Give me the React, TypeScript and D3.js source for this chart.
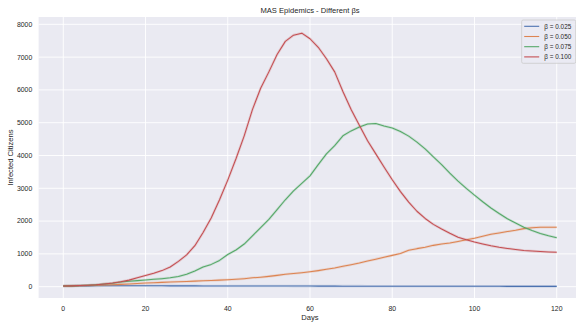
import React from 'react';
import * as d3 from 'd3';

// days sampled every 2 days, 0..120
const days = d3.range(0, 121, 2);

const beta025 = [
  20, 22, 24, 25, 26, 27, 27, 28, 28, 27,
  27, 26, 26, 25, 25, 24, 24, 23, 23, 22,
  22, 21, 21, 20, 20, 20, 19, 19, 18, 18,
  18, 17, 17, 17, 16, 16, 16, 15, 15, 15,
  14, 14, 14, 13, 13, 13, 12, 12, 12, 12,
  11, 11, 11, 11, 10, 10, 10, 10, 10, 9,
  9,
];

const beta050 = [
  20, 22, 28, 35, 42, 50, 60, 70, 80, 95,
  110, 122, 132, 140, 150, 160, 170, 180, 190, 200,
  210, 225, 245, 270, 290, 315, 345, 380, 400, 425,
  455, 490, 530, 570, 620, 670, 720, 780, 840, 900,
  955, 1010, 1110, 1160, 1200, 1260, 1300, 1330, 1380, 1430,
  1480, 1540, 1600, 1640, 1680, 1720, 1770, 1800, 1815, 1815,
  1810,
];

const beta075 = [
  20, 25, 35, 45, 60, 80, 105, 140, 165, 185,
  205, 225, 245, 270, 310, 380, 480, 600, 680, 800,
  980, 1120, 1300, 1550, 1800, 2050, 2350, 2650, 2920, 3150,
  3380, 3720, 4050, 4300, 4600, 4750, 4870, 4960, 4975, 4900,
  4840, 4730, 4590, 4410, 4200, 3960, 3720, 3460, 3220, 3000,
  2790, 2590, 2400, 2230, 2070, 1940, 1810, 1710, 1620, 1550,
  1490,
];

const beta100 = [
  20, 25, 35, 45, 60, 85, 110, 150, 200, 270,
  340, 410, 490, 600, 770, 970, 1250, 1650, 2100, 2650,
  3250, 3900, 4600, 5400, 6050, 6550, 7080, 7480, 7670, 7730,
  7560, 7300, 6950, 6550, 5950, 5400, 4920, 4450, 4050, 3650,
  3260, 2900, 2580, 2300, 2080, 1900, 1760, 1630, 1510, 1430,
  1360, 1300, 1245, 1200, 1165, 1135, 1105, 1085, 1070, 1058,
  1048,
];

const seriesNames = ['β = 0.025', 'β = 0.050', 'β = 0.075', 'β = 0.100'];
const seriesValues = [beta025, beta050, beta075, beta100];
const colors = ['#4C72B0', '#DD8452', '#55A868', '#C44E52'];

const xTicks = [0, 20, 40, 60, 80, 100, 120];
const yTicks = [0, 1000, 2000, 3000, 4000, 5000, 6000, 7000, 8000];

const W = 576;
const H = 325;
const plot = { left: 38.6, right: 581.4, top: 17, bottom: 298 };
const font = '"Liberation Sans", Arial, sans-serif';
const ink = '#262626';

const App = () => {
  const x = d3.scaleLinear().domain([-6, 126]).range([plot.left, plot.right]);
  const y = d3.scaleLinear().domain([-345, 8223]).range([plot.bottom, plot.top]);

  const line = (vals: number[]) =>
    d3
      .line<number>()
      .x((_, i) => x(days[i]))
      .y((d) => y(d))(vals) || '';

  const legX = 521.7;
  const legY = 20;

  return (
    <svg
      width={W}
      height={H}
      style={{ position: 'absolute', left: 0, top: 0, display: 'block' }}
      fontFamily={font}
    >
      <defs>
        <clipPath id="plotClip">
          <rect x={plot.left} y={plot.top} width={plot.right - plot.left} height={plot.bottom - plot.top} />
        </clipPath>
      </defs>
      <rect width={W} height={H} fill="#fff" />
      <rect
        x={plot.left}
        y={plot.top}
        width={plot.right - plot.left}
        height={plot.bottom - plot.top}
        fill="#EAEAF2"
      />

      {/* grid */}
      {xTicks.map((t) => (
        <line key={'gx' + t} x1={x(t)} x2={x(t)} y1={plot.top} y2={plot.bottom} stroke="#fff" strokeWidth={0.9} />
      ))}
      {yTicks.map((t) => (
        <line key={'gy' + t} x1={plot.left} x2={plot.right} y1={y(t)} y2={y(t)} stroke="#fff" strokeWidth={0.9} />
      ))}

      {/* series with a faint confidence halo */}
      <g clipPath="url(#plotClip)">
        {seriesValues.map((vals, i) => (
          <g key={seriesNames[i]}>
            <path d={line(vals)} fill="none" stroke={colors[i]} strokeOpacity={0.2} strokeWidth={2.6} strokeLinejoin="round" />
            <path d={line(vals)} fill="none" stroke={colors[i]} strokeWidth={1.05} strokeLinejoin="round" />
          </g>
        ))}
      </g>

      {/* tick labels */}
      {xTicks.map((t) => (
        <text key={'tx' + t} x={x(t)} y={310.5} fontSize={6.9} fill={ink} textAnchor="middle">
          {t}
        </text>
      ))}
      {yTicks.map((t) => (
        <text key={'ty' + t} x={32.3} y={y(t) + 2.4} fontSize={6.9} fill={ink} textAnchor="end">
          {t}
        </text>
      ))}

      {/* labels */}
      <text x={(plot.left + plot.right) / 2} y={12.5} fontSize={7.6} fill={ink} textAnchor="middle">
        MAS Epidemics - Different βs
      </text>
      <text x={310} y={320.3} fontSize={7.6} fill={ink} textAnchor="middle">
        Days
      </text>
      <text
        transform={`translate(12.6, ${(plot.top + plot.bottom) / 2}) rotate(-90)`}
        fontSize={7.6}
        fill={ink}
        textAnchor="middle"
      >
        Infected Citizens
      </text>

      {/* legend */}
      <g>
        <rect
          x={legX}
          y={legY}
          width={54}
          height={43.3}
          rx={1.5}
          fill="#EAEAF2"
          fillOpacity={0.8}
          stroke="#cccccc"
          strokeWidth={0.8}
        />
        {seriesNames.map((name, i) => {
          const ry = legY + 6.3 + i * 10.2;
          return (
            <g key={'leg' + name}>
              <line x1={legX + 2.5} x2={legX + 17.5} y1={ry} y2={ry} stroke={colors[i]} strokeWidth={1.1} />
              <text x={legX + 22.6} y={ry + 2.3} fontSize={6.4} fill={ink}>
                {name}
              </text>
            </g>
          );
        })}
      </g>
    </svg>
  );
};

export default App;
